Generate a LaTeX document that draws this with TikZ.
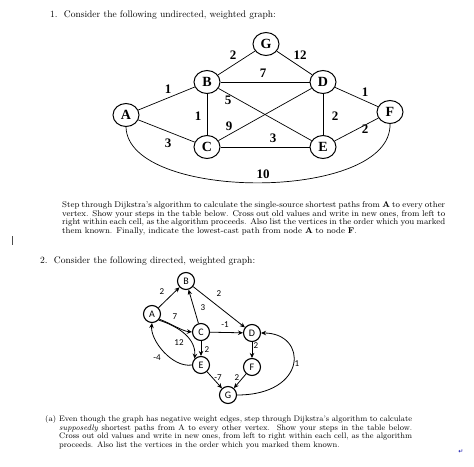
\documentclass[tikz,border=0pt]{standalone}
\usepackage{fontspec}
\newfontfamily\timesb{Liberation Serif}
\newfontfamily\calib{Carlito}
\newfontfamily\dejavu{DejaVu Sans}
\usetikzlibrary{arrows.meta,shapes.geometric}
\begin{document}
\begin{tikzpicture}[x=1pt,y=-1pt,
 gnode/.style={draw,ellipse,line width=1pt,minimum width=26pt,minimum height=23pt,inner sep=0pt,font=\timesb\bfseries\fontsize{14}{14}\selectfont},
 gedge/.style={line width=0.7pt},
 glab/.style={font=\timesb\bfseries\fontsize{13}{13}\selectfont,inner sep=0pt},
 dnode/.style={draw,circle,line width=1.1pt,minimum size=17pt,inner sep=0pt,font=\calib\fontsize{10}{10}\selectfont},
 dedge/.style={line width=0.8pt,-{Stealth[length=5pt,width=4.5pt]}},
 dlab/.style={font=\calib\fontsize{9}{9}\selectfont,inner sep=0pt},
 txt/.style={inner sep=0pt,anchor=base west,font=\fontsize{9.5}{9}\selectfont},
 ptxt/.style={inner sep=0pt,anchor=base west}
]
\useasboundingbox (0,0) rectangle (474,466);

% ---------- heading 1
\node[txt] (h1) at (50,17) {1.\ \ Consider the following undirected, weighted graph:};

% ---------- graph 1
\node[gnode] (g1) at (266,44) {G};
\node[gnode] (b1) at (207,82) {B};
\node[gnode] (d1) at (323,82) {D};
\node[gnode] (a1) at (126,115) {A};
\node[gnode] (f1) at (390,112) {F};
\node[gnode] (c1) at (207,147) {C};
\node[gnode] (e1) at (323,147) {E};

\draw[gedge] (a1) -- (b1);
\draw[gedge] (a1) -- (c1);
\draw[gedge] (b1) -- (g1);
\draw[gedge] (g1) -- (d1);
\draw[gedge] (b1) -- (d1);
\draw[gedge] (b1) -- (c1);
\draw[gedge] (b1) -- (e1);
\draw[gedge] (c1) -- (d1);
\draw[gedge] (c1) -- (e1);
\draw[gedge] (d1) -- (e1);
\draw[gedge] (d1) -- (f1);
\draw[gedge] (e1) -- (f1);
\draw[gedge] (a1.south) .. controls (128,202) and (392,202) .. (f1.south);

\node[glab] at (233,55) {2};
\node[glab] at (300,55) {12};
\node[glab] at (263,73) {7};
\node[glab] at (168,89) {1};
\node[glab] at (228,100) {5};
\node[glab] at (198,116) {1};
\node[glab] at (335,116) {2};
\node[glab] at (365,92) {1};
\node[glab] at (365,129) {2};
\node[glab] at (168,143) {3};
\node[glab] at (229,126) {9};
\node[glab] at (273,138) {3};
\node[glab] at (263,174) {10};

% ---------- paragraph 1
\node[ptxt] (p1) at (62,207.5) {\parbox[t]{383pt}{\fontsize{8.35}{8.6}\selectfont
Step through Dijkstra's algorithm to calculate the single-source shortest paths from \textbf{A} to every other\linebreak
vertex. Show your steps in the table below. Cross out old values and write in new ones, from left to\linebreak
right within each cell, as the algorithm proceeds. Also list the vertices in the order which you marked\linebreak
them known. Finally, indicate the lowest-cast path from node \textbf{A} to node \textbf{F}.}};

% cursor bar
\coordinate (cur1) at (12,236);
\coordinate (cur2) at (12,245);
\draw[line width=0.7pt,black!70] (cur1) -- (cur2);

% ---------- heading 2
\node[txt] (h2) at (40,263.5) {2.\ \ Consider the following directed, weighted graph:};

% ---------- graph 2
\node[dnode] (b2) at (186,281) {B};
\node[dnode] (a2) at (152,314) {A};
\node[dnode] (c2) at (201,332) {C};
\node[dnode] (d2) at (252,333) {D};
\node[dnode] (e2) at (201,365) {E};
\node[dnode] (f2) at (252,367) {F};
\node[dnode] (g2) at (228,395) {G};

\draw[dedge] (a2) -- (b2);
\draw[dedge] (b2) -- (d2);
\draw[dedge] (c2) -- (b2);
\draw[dedge] (a2.-35) .. controls (172,324) and (182,331) .. (c2.west);
\draw[dedge] (a2.-42) .. controls (180,327) and (196,339) .. (e2.north west);
\draw[dedge] (c2) -- (d2);
\draw[dedge] (c2) -- (e2);
\draw[dedge] (e2.west) .. controls (172,368) and (150,340) .. (a2.south);
\draw[dedge] (d2) -- (f2);
\draw[dedge] (e2) -- (g2);
\draw[dedge] (f2) -- (g2);
\draw[dedge] (g2.east) .. controls (308,395) and (308,333) .. (d2.east);

\node[dlab] at (162,292) {2};
\node[dlab] at (219,294) {2};
\node[dlab] at (203,308) {3};
\node[dlab] at (175,317) {7};
\node[dlab] at (225,325) {-1};
\node[dlab] at (179,343) {12};
\node[dlab] at (207,350) {2};
\node[dlab] at (256,346) {2};
\node[dlab] at (157,358) {-4};
\node[dlab] at (218,378) {-7};
\node[dlab] at (237,378) {2};
\node[dlab] at (297,364) {1};

% ---------- paragraph (a)
\node[ptxt,font=\fontsize{8.0}{8.6}\selectfont] (pa) at (45,421.5) {(a)};
\node[ptxt] (p2) at (59,421.5) {\parbox[t]{353pt}{\fontsize{7.95}{8.6}\selectfont
Even though the graph has negative weight edges, step through Dijkstra's algorithm to calculate\linebreak
\emph{supposedly} shortest paths from A to every other vertex.\ \ Show your steps in the table below.\linebreak
Cross out old values and write in new ones, from left to right within each cell, as the algorithm\linebreak
proceeds. Also list the vertices in the order which you marked them known.}};

\node[inner sep=0pt,text=blue!65!black,font=\dejavu\fontsize{6}{6}\selectfont] (ret) at (461,452) {↵};
\end{tikzpicture}
\end{document}
